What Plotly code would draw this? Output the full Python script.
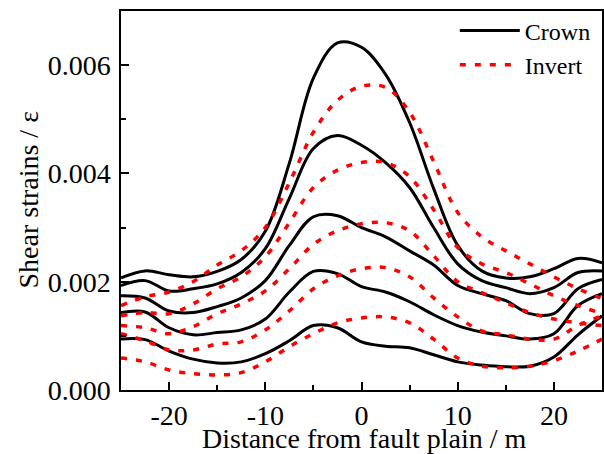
import plotly.graph_objects as go

# distance from fault plain (m)
distance = [-25, -22.5, -20, -17.5, -15, -12.5, -10, -7.5, -5, -2.5, 0,
            2.5, 5, 7.5, 10, 12.5, 15, 17.5, 20, 22.5, 25]

# crown shear strains, x 1e-3
crown_1 = [2.07, 2.20, 2.13, 2.09, 2.19, 2.41, 2.93, 4.19, 5.76, 6.41, 6.33,
           5.83, 4.94, 3.72, 2.67, 2.20, 2.07, 2.09, 2.24, 2.43, 2.35]
crown_2 = [1.93, 2.02, 1.83, 1.87, 1.96, 2.17, 2.61, 3.54, 4.46, 4.70, 4.52,
           4.20, 3.74, 3.00, 2.33, 2.02, 1.89, 1.78, 1.89, 2.17, 2.20]
crown_3 = [1.74, 1.70, 1.46, 1.43, 1.54, 1.70, 2.02, 2.67, 3.20, 3.22, 3.00,
           2.83, 2.57, 2.31, 1.93, 1.78, 1.65, 1.41, 1.41, 1.87, 2.04]
crown_4 = [1.43, 1.44, 1.15, 1.02, 1.06, 1.11, 1.31, 1.81, 2.19, 2.15, 1.91,
           1.81, 1.63, 1.39, 1.19, 1.07, 1.00, 0.94, 1.04, 1.56, 1.78]
crown_5 = [0.94, 0.93, 0.72, 0.57, 0.50, 0.52, 0.67, 0.91, 1.19, 1.15, 0.89,
           0.81, 0.78, 0.65, 0.52, 0.46, 0.43, 0.44, 0.61, 1.02, 1.37]

# invert shear strains, x 1e-3
invert_1 = [1.56, 1.72, 1.81, 2.00, 2.31, 2.57, 3.00, 3.83, 4.76, 5.35, 5.61,
            5.59, 5.13, 4.22, 3.28, 2.83, 2.57, 2.33, 2.09, 1.87, 1.69]
invert_2 = [1.37, 1.43, 1.41, 1.59, 1.87, 2.09, 2.46, 3.09, 3.74, 4.06, 4.20,
            4.20, 3.94, 3.33, 2.63, 2.33, 2.17, 1.96, 1.74, 1.56, 1.41]
invert_3 = [1.19, 1.15, 1.04, 1.17, 1.41, 1.59, 1.83, 2.24, 2.69, 2.94, 3.07,
            3.09, 2.94, 2.48, 2.00, 1.80, 1.61, 1.43, 1.31, 1.24, 1.19]
invert_4 = [1.04, 0.91, 0.74, 0.74, 0.85, 0.89, 1.11, 1.46, 1.87, 2.11, 2.24,
            2.26, 2.09, 1.70, 1.35, 1.09, 1.02, 0.94, 0.94, 1.19, 1.37]
invert_5 = [0.59, 0.52, 0.37, 0.30, 0.28, 0.32, 0.52, 0.80, 1.04, 1.24, 1.33,
            1.35, 1.24, 0.94, 0.59, 0.44, 0.41, 0.44, 0.54, 0.72, 0.94]

x_ticks = [-20, -10, 0, 10, 20]
x_tick_labels = ["-20", "-10", "0", "10", "20"]
y_ticks = [0, 0.002, 0.004, 0.006]
y_tick_labels = ["0.000", "0.002", "0.004", "0.006"]

crown = [crown_1, crown_2, crown_3, crown_4, crown_5]
invert = [invert_1, invert_2, invert_3, invert_4, invert_5]

FONT = "Liberation Serif"

fig = go.Figure()

for i, ys in enumerate(crown):
    fig.add_trace(go.Scatter(
        x=distance, y=[v / 1000 for v in ys], mode="lines",
        line=dict(color="black", width=3, shape="spline", smoothing=1.0),
        name="Crown", legendgroup="crown", showlegend=(i == 0),
    ))

for i, ys in enumerate(invert):
    fig.add_trace(go.Scatter(
        x=distance, y=[v / 1000 for v in ys], mode="lines",
        line=dict(color="#ff0000", width=3.5, shape="spline", smoothing=1.0,
                  dash="6px,9px"),
        name="Invert", legendgroup="invert", showlegend=(i == 0),
    ))

axis_common = dict(
    showline=True, linecolor="black", linewidth=1.5, mirror=True,
    showgrid=False, zeroline=False, automargin=False,
    ticks="inside", ticklen=8, tickwidth=1.5, tickcolor="black",
    tickfont=dict(family=FONT, size=28, color="black"),
)

fig.update_layout(
    width=604, height=454,
    paper_bgcolor="white", plot_bgcolor="white",
    margin=dict(l=121, r=2, t=11, b=64),
    font=dict(family=FONT, color="black"),
    xaxis=dict(
        range=[-25, 25], tickvals=x_ticks, ticktext=x_tick_labels,
        ticklabelstandoff=0,
        minor=dict(tickvals=[-15, -5, 5, 15], ticks="inside", ticklen=5,
                   tickwidth=1.5, tickcolor="black"),
        **axis_common,
    ),
    yaxis=dict(
        range=[0, 0.007], tickvals=y_ticks, ticktext=y_tick_labels,
        ticklabelstandoff=3,
        minor=dict(tickvals=[0.001, 0.003, 0.005], ticks="inside", ticklen=5,
                   tickwidth=1.5, tickcolor="black"),
        **axis_common,
    ),
    legend=dict(
        x=0.694, y=1.007, xanchor="left", yanchor="top",
        bgcolor="rgba(0,0,0,0)", borderwidth=0,
        font=dict(family=FONT, size=24, color="black"),
        itemwidth=60, tracegroupgap=0,
    ),
    showlegend=True,
    annotations=[
        dict(text="Distance from fault plain / m", xref="paper", yref="paper",
             x=0.505, y=0, xanchor="center", yanchor="middle", yshift=-48,
             showarrow=False, font=dict(family=FONT, size=28, color="black")),
        dict(text="Shear strains / ε", xref="paper", yref="paper",
             x=0, y=0.5, xanchor="center", yanchor="middle", xshift=-93,
             textangle=-90, showarrow=False,
             font=dict(family=FONT, size=28, color="black")),
    ],
)

fig.write_html("out.html", config={"displayModeBar": False},
               post_script="document.body.style.margin='0px';")
